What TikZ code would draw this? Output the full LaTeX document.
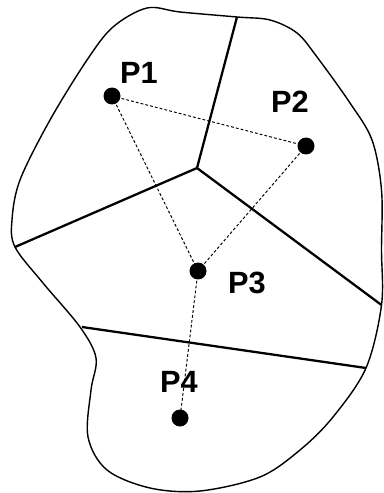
\documentclass[tikz,border=0pt]{standalone}
\usepackage{fontspec}
\setmainfont{Liberation Sans}
\tikzset{
  site/.style={circle,fill=black,inner sep=0pt,minimum size=0.34cm},
  sitelabel/.style={font=\fontsize{17.5}{20}\selectfont\bfseries},
  link/.style={dash pattern=on 1.6pt off 1.2pt,line width=0.55pt},
  cell/.style={line width=1.3pt},
}
\begin{document}
\begin{tikzpicture}[x=0.02cm,y=-0.02cm]
        \useasboundingbox (0,0) rectangle (383,493);
        \draw[line width=0.8pt] plot[smooth cycle,tension=0.55] coordinates {
          (87,60) (113,27) (147,8) (180,12) (237,17) (270,20) (297,33) (317,57)
          (350,103) (372,140) (381.5,190) (381.5,250) (381.5,305) (366,368) (333,417)
          (300,450) (260,477) (200,491) (150,488) (107,470) (88,437) (91,390)
          (96,358) (80,327) (43,283) (15,247) (12,220) (20,180) (50,120)};
        \coordinate (v) at (197,168);
        \coordinate (top) at (237,17);
        \coordinate (left) at (15,247);
        \coordinate (right) at (381.5,305);
        \coordinate (lowl) at (82,327);
        \coordinate (lowr) at (366,368);
        \draw[cell] (v) -- (top);
        \draw[cell] (v) -- (left);
        \draw[cell] (v) -- (right);
        \draw[cell] (lowl) -- (lowr);
        \node[site] (p1) at (112,96) {};
        \node[site] (p2) at (306,146) {};
        \node[site] (p3) at (198,271) {};
        \node[site] (p4) at (180,418) {};
        \draw[link] (p1.center) -- (p2.center);
        \draw[link] (p1.center) -- (p3.center);
        \draw[link] (p2.center) -- (p3.center);
        \draw[link] (p3.center) -- (p4.center);
        \node[sitelabel] (l1) at (139,73) {P1};
        \node[sitelabel] (l2) at (290,102) {P2};
        \node[sitelabel] (l3) at (247,283) {P3};
        \node[sitelabel] (l4) at (179,382) {P4};
\end{tikzpicture}
\end{document}
